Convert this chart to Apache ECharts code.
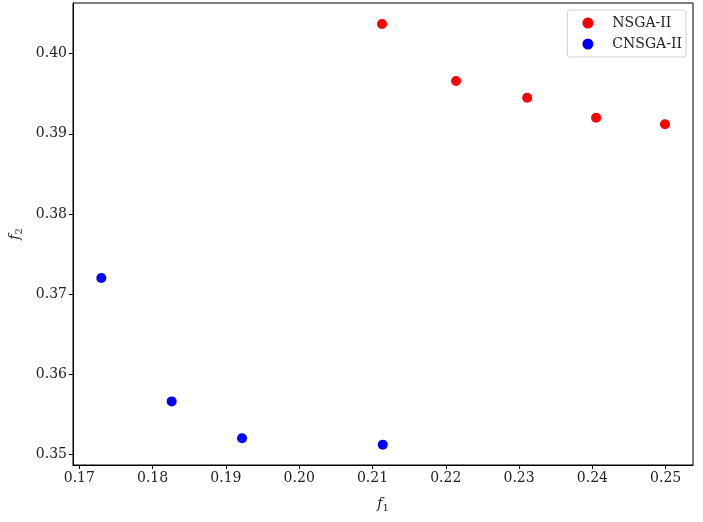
<!DOCTYPE html>
<html><head><meta charset="utf-8">
<script src="https://cdn.jsdelivr.net/npm/echarts@6/dist/echarts.min.js"></script>
<style>html,body{margin:0;padding:0;background:#fff}#c{width:703px;height:522px}</style>
</head><body><div id="c"></div>
<script>
const nsgaX = [0.2113, 0.2214, 0.2311, 0.2405, 0.2499];
const nsgaY = [0.4037, 0.3966, 0.3945, 0.3920, 0.3912];
const cnsgaX = [0.1730, 0.1826, 0.1922, 0.2114];
const cnsgaY = [0.3720, 0.3566, 0.3520, 0.3512];
const xTicks = [0.17, 0.18, 0.19, 0.20, 0.21, 0.22, 0.23, 0.24, 0.25];
const yTicks = [0.35, 0.36, 0.37, 0.38, 0.39, 0.40];
const seriesNames = ['NSGA-II', 'CNSGA-II'];

const font = 'DejaVu Serif';
const chart = echarts.init(document.getElementById('c'));
const zip = (a, b) => a.map((v, i) => [v, b[i]]);
const rich = {i: {fontStyle: 'italic', fontFamily: font, fontSize: 14, color: '#222'}, s: {fontFamily: font, fontSize: 10, color: '#222', verticalAlign: 'bottom', padding: [7, 0, 0, 0]}};
chart.setOption({
  animation: false,
  textStyle: {fontFamily: font},
  grid: {left: 73, top: 3, width: 620, height: 462, containLabel: false, outerBoundsMode: 'none', show: true, borderColor: '#000', borderWidth: 1, backgroundColor: 'transparent'},
  xAxis: {
    type: 'value', min: 0.16914, max: 0.253725,
    axisLine: {show: true, onZero: false, lineStyle: {color: '#000', width: 1}},
    axisTick: {show: true, inside: false, length: 4, lineStyle: {color: '#000'}, customValues: xTicks},
    axisLabel: {color: '#222', fontFamily: font, fontSize: 14, margin: 6, customValues: xTicks, formatter: v => v.toFixed(2)},
    splitLine: {show: false},
    name: '{i|f}{s|1}', nameLocation: 'middle', nameGap: 31,
    nameTextStyle: {rich}
  },
  yAxis: {
    type: 'value', min: 0.34866, max: 0.40633,
    axisLine: {show: true, onZero: false, lineStyle: {color: '#000', width: 1}},
    axisTick: {show: true, inside: false, length: 4, lineStyle: {color: '#000'}, customValues: yTicks},
    axisLabel: {color: '#222', fontFamily: font, fontSize: 14, margin: 6, customValues: yTicks, formatter: v => v.toFixed(2)},
    splitLine: {show: false},
    name: '{i|f}{s|2}', nameLocation: 'middle', nameGap: 49, nameRotate: 90,
    nameTextStyle: {rich}
  },
  legend: {
    right: 17, top: 10, orient: 'vertical',
    data: seriesNames.map(n => ({name: n, icon: 'circle'})),
    itemWidth: 11, itemHeight: 11, itemGap: 7,
    borderColor: '#d0d0d0', borderWidth: 1, borderRadius: 3,
    padding: [6, 4, 6, 15],
    textStyle: {fontFamily: font, fontSize: 14, color: '#222', padding: [0, 0, 0, 14]}
  },
  series: [
    {name: seriesNames[0], type: 'scatter', data: zip(nsgaX, nsgaY), symbolSize: 10, itemStyle: {color: '#ff0000', opacity: 1}},
    {name: seriesNames[1], type: 'scatter', data: zip(cnsgaX, cnsgaY), symbolSize: 10, itemStyle: {color: '#0000ff', opacity: 1}}
  ]
});
</script></body></html>
